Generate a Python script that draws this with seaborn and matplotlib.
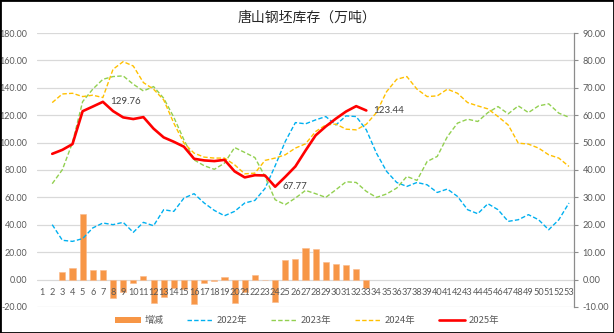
import numpy as np
import pandas as pd
import matplotlib
matplotlib.use("Agg")
import matplotlib.pyplot as plt
from matplotlib.patches import Rectangle
from matplotlib.lines import Line2D
import seaborn as sns

# ---- data -------------------------------------------------------------
weeks = list(range(1, 54))
week_labels = [str(w) for w in weeks]

# weekly billet inventory (10k t), reported from week 2
inv_weeks = list(range(2, 54))
inv_2022 = [40.1, 28.7, 27.9, 29.9, 37.7, 41.3, 40.1, 41.8, 34.5, 41.8, 39.3, 51.0,
            49.8, 59.5, 62.7, 55.9, 50.5, 46.6, 49.8, 55.9, 57.8, 66.5, 83.0, 100.8,
            114.6, 113.7, 116.6, 119.0, 112.9, 119.5, 119.0, 109.3, 92.3, 79.0, 70.9,
            68.0, 70.9, 69.2, 63.6, 66.1, 60.7, 51.0, 48.1, 55.4, 51.0, 42.5, 43.7,
            47.4, 43.7, 36.4, 43.7, 55.9]
inv_2023 = [70.0, 80.2, 100.0, 129.9, 139.0, 146.2, 148.2, 148.7, 142.6, 137.7, 140.9,
            132.4, 118.5, 102.0, 87.4, 83.1, 80.5, 85.0, 96.4, 92.8, 89.1, 75.3, 58.3,
            54.7, 59.5, 65.1, 62.7, 60.0, 65.6, 71.4, 70.9, 64.4, 60.0, 62.5, 66.8,
            75.3, 72.4, 86.2, 89.9, 104.4, 114.2, 117.1, 115.4, 121.9, 126.3, 121.0,
            126.8, 121.9, 126.8, 128.3, 121.5, 118.5]
inv_2024 = [129.2, 135.5, 136.0, 133.6, 134.6, 132.9, 153.5, 159.1, 155.9, 143.8, 139.0,
            131.2, 114.2, 99.6, 92.3, 89.4, 88.7, 88.7, 83.8, 77.2, 77.7, 87.0, 88.7,
            91.1, 96.0, 99.1, 108.1, 112.9, 113.5, 109.8, 109.3, 113.4, 121.9, 137.2,
            146.2, 148.2, 139.0, 133.6, 134.1, 139.0, 136.0, 129.2, 126.8, 124.6, 119.0,
            112.9, 99.6, 98.9, 96.0, 91.1, 88.7, 82.6]
weeks_2025 = list(range(2, 34))
inv_2025 = [91.8, 94.7, 98.9, 122.9, 126.3, 129.76, 123.0, 118.4, 117.2, 118.6, 110.2,
            103.8, 100.6, 97.0, 88.2, 87.0, 86.5, 87.4, 79.0, 74.6, 76.2, 76.0, 67.77,
            75.0, 82.6, 94.2, 105.3, 111.8, 117.5, 122.7, 126.6, 123.44]

# week-on-week change of 2025 inventory (right axis)
chg_weeks = list(range(3, 34))
chg_2025 = [2.9, 4.2, 24.0, 3.4, 3.46, -6.76, -4.6, -1.2, 1.4, -8.4, -6.4, -3.2, -3.6,
            -8.8, -1.2, -0.5, 0.9, -8.4, -4.4, 1.6, -0.2, -8.23, 7.23, 7.6, 11.6, 11.1,
            6.5, 5.7, 5.2, 3.9, -3.16]

title = "唐山钢坯库存（万吨）"
left_ticks = [-20, 0, 20, 40, 60, 80, 100, 120, 140, 160, 180]
right_ticks = [-10, 0, 10, 20, 30, 40, 50, 60, 70, 80, 90]

# ---- style ------------------------------------------------------------
sns.set_theme(style="white")
plt.rcParams["font.family"] = ["Lato", "Noto Sans CJK SC", "DejaVu Sans"]

C_BAR = "#F79646"
C_22, C_23, C_24, C_25 = "#00B0F0", "#92D050", "#FFC000", "#FF0000"
GRID = "#D9D9D9"
TXT = "#595959"

fig = plt.figure(figsize=(6.14, 3.33), dpi=100)
ax = fig.add_axes([0.0603, 0.0781, 0.8746, 0.8228])
ax2 = ax.twinx()

# bars (right axis) sit beneath the lines
ax.set_zorder(ax2.get_zorder() + 1)
ax.patch.set_visible(False)

df_chg = pd.DataFrame({"week": chg_weeks, "chg": chg_2025})
sns.barplot(data=df_chg, x="week", y="chg", native_scale=True, ax=ax2,
            color=C_BAR, saturation=1, width=0.6, errorbar=None,
            edgecolor="#FAB98A", linewidth=0.4)

dash = (3.2, 1.6)
for yr, vals, col in [("2022年", inv_2022, C_22), ("2023年", inv_2023, C_23),
                      ("2024年", inv_2024, C_24)]:
    d = pd.DataFrame({"week": inv_weeks, "v": vals})
    sns.lineplot(data=d, x="week", y="v", ax=ax, color=col, lw=1.0,
                 dashes=False, legend=False)
    ax.lines[-1].set_dashes(dash)
d25 = pd.DataFrame({"week": weeks_2025, "v": inv_2025})
sns.lineplot(data=d25, x="week", y="v", ax=ax, color=C_25, lw=1.9, legend=False)

# value labels on the 2025 line
for idx in [inv_2025.index(max(inv_2025)), inv_2025.index(min(inv_2025)),
            len(inv_2025) - 1]:
    ax.annotate(f"{inv_2025[idx]:.2f}", xy=(weeks_2025[idx], inv_2025[idx]),
                xytext=(5, 0), textcoords="offset points", va="center",
                ha="left", fontsize=7, color="#404040")

# ---- axes -------------------------------------------------------------
ax.set_xlim(0.5, 53.5)
ax.set_ylim(-20, 180)
ax2.set_ylim(-10, 90)
ax.set_xticks(weeks)
ax.set_xticklabels(week_labels)
ax.set_yticks(left_ticks)
ax.set_yticklabels([f"{t:.2f}" for t in left_ticks])
ax2.set_yticks(right_ticks)
ax2.set_yticklabels([f"{t:.2f}" for t in right_ticks])
ax.set_xlabel("")
ax.set_ylabel("")
ax2.set_xlabel("")
ax2.set_ylabel("")

ax.grid(False)
ax2.grid(axis="y", color=GRID, lw=0.9)
ax2.grid(axis="x", visible=False)
ax2.set_axisbelow(True)

for s in ["top", "left", "right"]:
    ax.spines[s].set_visible(False)
ax.spines["bottom"].set_position(("data", 0))
ax.spines["bottom"].set_visible(False)
for s in ["top", "left", "bottom"]:
    ax2.spines[s].set_visible(False)
ax2.spines["right"].set_color("#8C8C8C")
ax2.spines["right"].set_linewidth(0.9)

ax.tick_params(axis="x", length=0, pad=6, labelsize=6.6, colors=TXT)
ax.tick_params(axis="y", length=0, pad=7, labelsize=6.4, colors=TXT)
ax2.tick_params(axis="y", direction="out", length=3, width=0.8, color="#8C8C8C",
                pad=3, labelsize=6.6, labelcolor=TXT)
ax2.tick_params(axis="x", length=0, labelbottom=False)

# ---- title & legend ---------------------------------------------------
fig.text(0.5, 0.948, title, ha="center", va="center", fontsize=10,
         color="#262626", family=["Noto Sans CJK SC", "DejaVu Sans"])

bar_handle = Rectangle((0, 0), 1, 1, facecolor=C_BAR, edgecolor="none")
line_handles = [Line2D([], [], color=C_22, lw=1.0, dashes=dash),
                Line2D([], [], color=C_23, lw=1.0, dashes=dash),
                Line2D([], [], color=C_24, lw=1.0, dashes=dash),
                Line2D([], [], color=C_25, lw=1.9)]
leg = fig.legend([bar_handle] + line_handles,
                 ["增减", "2022年", "2023年", "2024年", "2025年"],
                 loc="center", bbox_to_anchor=(0.5, 0.037), ncol=5,
                 frameon=False, handlelength=2.8, handleheight=0.7,
                 handletextpad=0.35, columnspacing=2.5,
                 prop={"family": ["Noto Sans CJK SC", "DejaVu Sans"], "size": 6.8})
for t in leg.get_texts():
    t.set_color(TXT)

# outer frame
fig.patches.append(Rectangle((0, 0), 1, 1, transform=fig.transFigure, fill=False,
                             edgecolor="black", lw=2.0))

fig.savefig("out.png", dpi=100)
